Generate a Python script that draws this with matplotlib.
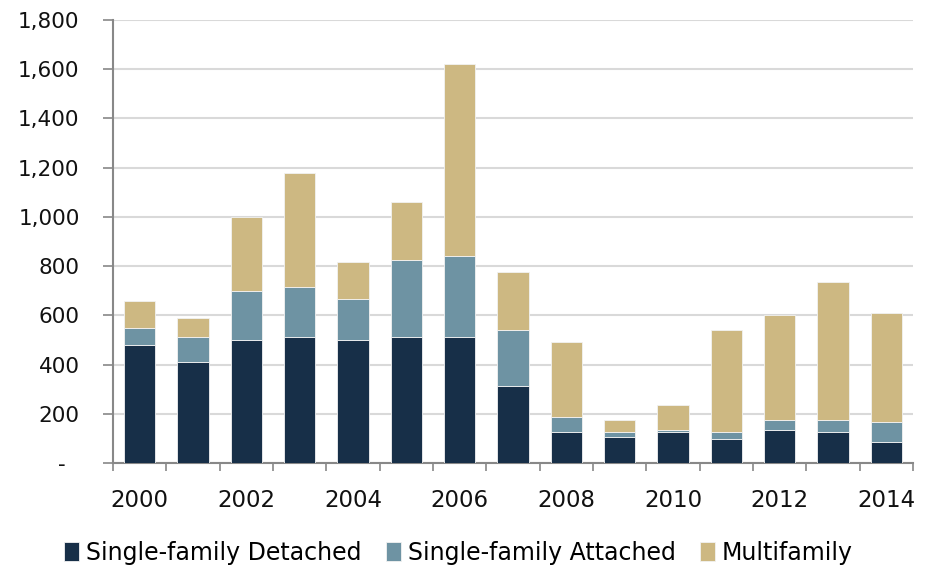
import matplotlib
matplotlib.use("Agg")
import matplotlib.pyplot as plt
import numpy as np
from matplotlib.ticker import FuncFormatter

years = list(range(2000, 2015))
detached = [480, 410, 500, 510, 500, 510, 510, 313, 126, 106, 126, 96, 135, 126, 87]
attached = [70, 100, 197, 207, 167, 315, 333, 226, 59, 20, 9, 30, 38, 47, 78]
multifamily = [108, 80, 303, 462, 148, 237, 780, 237, 307, 50, 99, 414, 427, 564, 444]

series_names = ["Single-family Detached", "Single-family Attached", "Multifamily"]
colors = ["#172f48", "#6e93a3", "#cdb882"]

plt.rcParams["font.family"] = ["DejaVu Sans"]

fig = plt.figure(figsize=(9.30, 5.69), dpi=100)
ax = fig.add_axes([113 / 930, 1 - 463 / 569, 800 / 930, 443 / 569])

x = np.arange(len(years))
bottom = np.zeros(len(years))
for vals, name, col in zip([detached, attached, multifamily], series_names, colors):
    ax.bar(x, vals, width=0.59, bottom=bottom, color=col, label=name,
           edgecolor="#f2f2f2", linewidth=0.6, zorder=3)
    bottom += np.array(vals)

ax.set_xlim(-0.5, len(years) - 0.5)
ax.set_ylim(0, 1800)
ax.set_yticks(np.arange(0, 1801, 200))
ax.yaxis.set_major_formatter(FuncFormatter(lambda v, p: "-  " if v == 0 else f"{int(v):,}"))
ax.grid(axis="y", color="#d9d9d9", linewidth=1.5, zorder=0)

# x ticks at category boundaries, labels every other year at centres
ax.set_xticks(np.arange(-0.5, len(years), 1.0))
ax.set_xticklabels([])
ax.set_xticks(x[::2], minor=True)
ax.set_xticklabels([str(y) for y in years[::2]], minor=True)
ax.tick_params(axis="x", which="major", length=6, width=1.2, color="#888888", direction="out")
ax.tick_params(axis="x", which="minor", length=0, pad=19, labelsize=16.5, labelcolor="#111111")
ax.tick_params(axis="y", length=7, width=1.2, color="#888888", direction="out",
               labelsize=15.5, labelcolor="#111111", pad=17)

for s in ["top", "right"]:
    ax.spines[s].set_visible(False)
for s in ["left", "bottom"]:
    ax.spines[s].set_color("#888888")
    ax.spines[s].set_linewidth(1.5)

fig.legend(loc="center", bbox_to_anchor=(0.493, 1 - 553 / 569), ncol=3, frameon=False,
           fontsize=17, handlelength=0.65, handleheight=0.85, handletextpad=0.3,
           columnspacing=1.0, borderpad=0)

fig.savefig("out.png", dpi=100)
